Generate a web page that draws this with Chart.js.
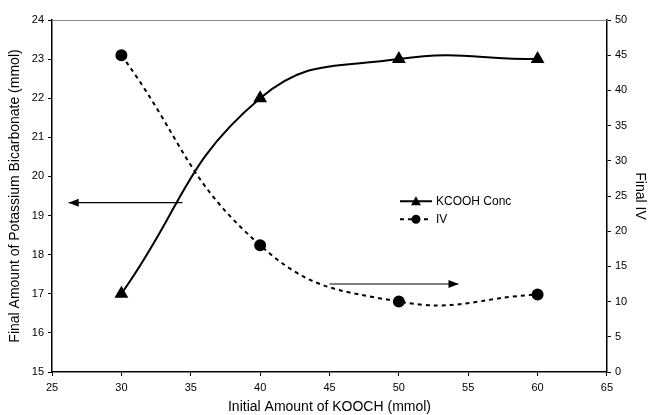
<!DOCTYPE html>
<html><head><meta charset="utf-8">
<script src="https://cdn.jsdelivr.net/npm/chart.js@4"></script>
<style>html,body{margin:0;padding:0;background:#fff}canvas{display:block}</style>
</head><body>
<canvas id="c" width="650" height="415"></canvas>
<script>
const initialKOOCH = [30, 40, 50, 60];
const kcoohConc = [17, 22, 23, 23];
const finalIV = [45, 18, 10, 11];
const xTicks = [25, 65, 5];
const leftTicks = [15, 24, 1];
const rightTicks = [0, 50, 5];
// annotation arrows: [xStart, yStart, xEnd, yEnd]
const arrowLeft = [34.4, 19.33, 26.2, 19.33];
const arrowRight = [45.0, 12.5, 54.3, 12.5];

const FONT = "'Liberation Sans', Arial, sans-serif";

const framePlugin = {
  id: 'frame',
  afterDraw(chart) {
    const {ctx, chartArea: a, scales} = chart;
    ctx.save();
    ctx.strokeStyle = '#888';
    ctx.lineWidth = 1;
    ctx.beginPath();
    ctx.moveTo(a.left, a.top + 0.5);
    ctx.lineTo(a.right, a.top + 0.5);
    ctx.stroke();
    function arrow(arr, yScale) {
      const x1 = scales.x.getPixelForValue(arr[0]);
      const y1 = yScale.getPixelForValue(arr[1]);
      const x2 = scales.x.getPixelForValue(arr[2]);
      const y2 = yScale.getPixelForValue(arr[3]);
      ctx.strokeStyle = '#000';
      ctx.fillStyle = '#000';
      ctx.lineWidth = 1.2;
      ctx.beginPath();
      ctx.moveTo(x1, y1);
      ctx.lineTo(x2, y2);
      ctx.stroke();
      const dir = Math.sign(x2 - x1);
      ctx.beginPath();
      ctx.moveTo(x2, y2);
      ctx.lineTo(x2 - dir * 10, y2 - 4);
      ctx.lineTo(x2 - dir * 10, y2 + 4);
      ctx.closePath();
      ctx.fill();
    }
    arrow(arrowLeft, scales.y);
    arrow(arrowRight, scales.y2);
    const lx = a.left + (a.right - a.left) * 0.627;
    const ly = a.top + (a.bottom - a.top) * 0.515;
    chart.data.datasets.forEach((ds, i) => {
      const y = ly + i * 18;
      ctx.strokeStyle = '#000';
      ctx.lineWidth = 2;
      ctx.setLineDash(ds.borderDash || []);
      ctx.beginPath();
      ctx.moveTo(lx, y);
      ctx.lineTo(lx + 32, y);
      ctx.stroke();
      ctx.setLineDash([]);
      ctx.fillStyle = '#000';
      ctx.beginPath();
      if (ds.pointStyle === 'triangle') {
        ctx.moveTo(lx + 16, y - 5);
        ctx.lineTo(lx + 21, y + 4);
        ctx.lineTo(lx + 11, y + 4);
        ctx.closePath();
      } else {
        ctx.arc(lx + 16, y, 4.5, 0, Math.PI * 2);
      }
      ctx.fill();
      ctx.font = '12px ' + FONT;
      ctx.textBaseline = 'middle';
      ctx.fillText(ds.label, lx + 36, y);
    });
    ctx.restore();
  }
};

new Chart(document.getElementById('c'), {
  type: 'line',
  data: {
    datasets: [
      {
        label: 'KCOOH Conc',
        data: initialKOOCH.map((x, i) => ({x, y: kcoohConc[i]})),
        yAxisID: 'y',
        borderColor: '#000',
        backgroundColor: '#000',
        borderWidth: 2,
        pointStyle: 'triangle',
        pointRadius: 6,
        tension: 0.45
      },
      {
        label: 'IV',
        data: initialKOOCH.map((x, i) => ({x, y: finalIV[i]})),
        yAxisID: 'y2',
        borderColor: '#000',
        backgroundColor: '#000',
        borderWidth: 2,
        borderDash: [4, 4],
        pointStyle: 'circle',
        pointRadius: 5,
        tension: 0.45
      }
    ]
  },
  options: {
    responsive: false,
    animation: false,
    layout: {padding: {top: 20, right: 0, left: 7, bottom: 0}},
    plugins: {legend: {display: false}, tooltip: {enabled: false}},
    scales: {
      x: {
        type: 'linear',
        min: xTicks[0], max: xTicks[1],
        ticks: {stepSize: xTicks[2], color: '#000', font: {family: FONT, size: 11}, padding: 5},
        grid: {drawOnChartArea: false, color: '#000', tickLength: 4},
        border: {color: '#000', width: 1.5},
        title: {display: true, text: 'Initial Amount of KOOCH (mmol)', color: '#000', font: {family: FONT, size: 14}, padding: {top: 0, bottom: -1}}
      },
      y: {
        position: 'left',
        min: leftTicks[0], max: leftTicks[1],
        ticks: {stepSize: leftTicks[2], color: '#000', font: {family: FONT, size: 11}, padding: 4},
        grid: {drawOnChartArea: false, color: '#000', tickLength: 4},
        border: {color: '#000', width: 1.5},
        title: {display: true, text: 'Final Amount of Potassium Bicarbonate (mmol)', color: '#000', font: {family: FONT, size: 14}, padding: {top: 0, bottom: 4}}
      },
      y2: {
        position: 'right',
        min: rightTicks[0], max: rightTicks[1],
        ticks: {stepSize: rightTicks[2], color: '#000', font: {family: FONT, size: 11}, padding: 4},
        grid: {drawOnChartArea: false, color: '#000', tickLength: 4},
        border: {color: '#000', width: 1.5},
        title: {display: true, text: 'Final IV', color: '#000', font: {family: FONT, size: 14}, padding: {top: 2, bottom: 0}}
      }
    }
  },
  plugins: [framePlugin]
});
</script>
</body></html>
